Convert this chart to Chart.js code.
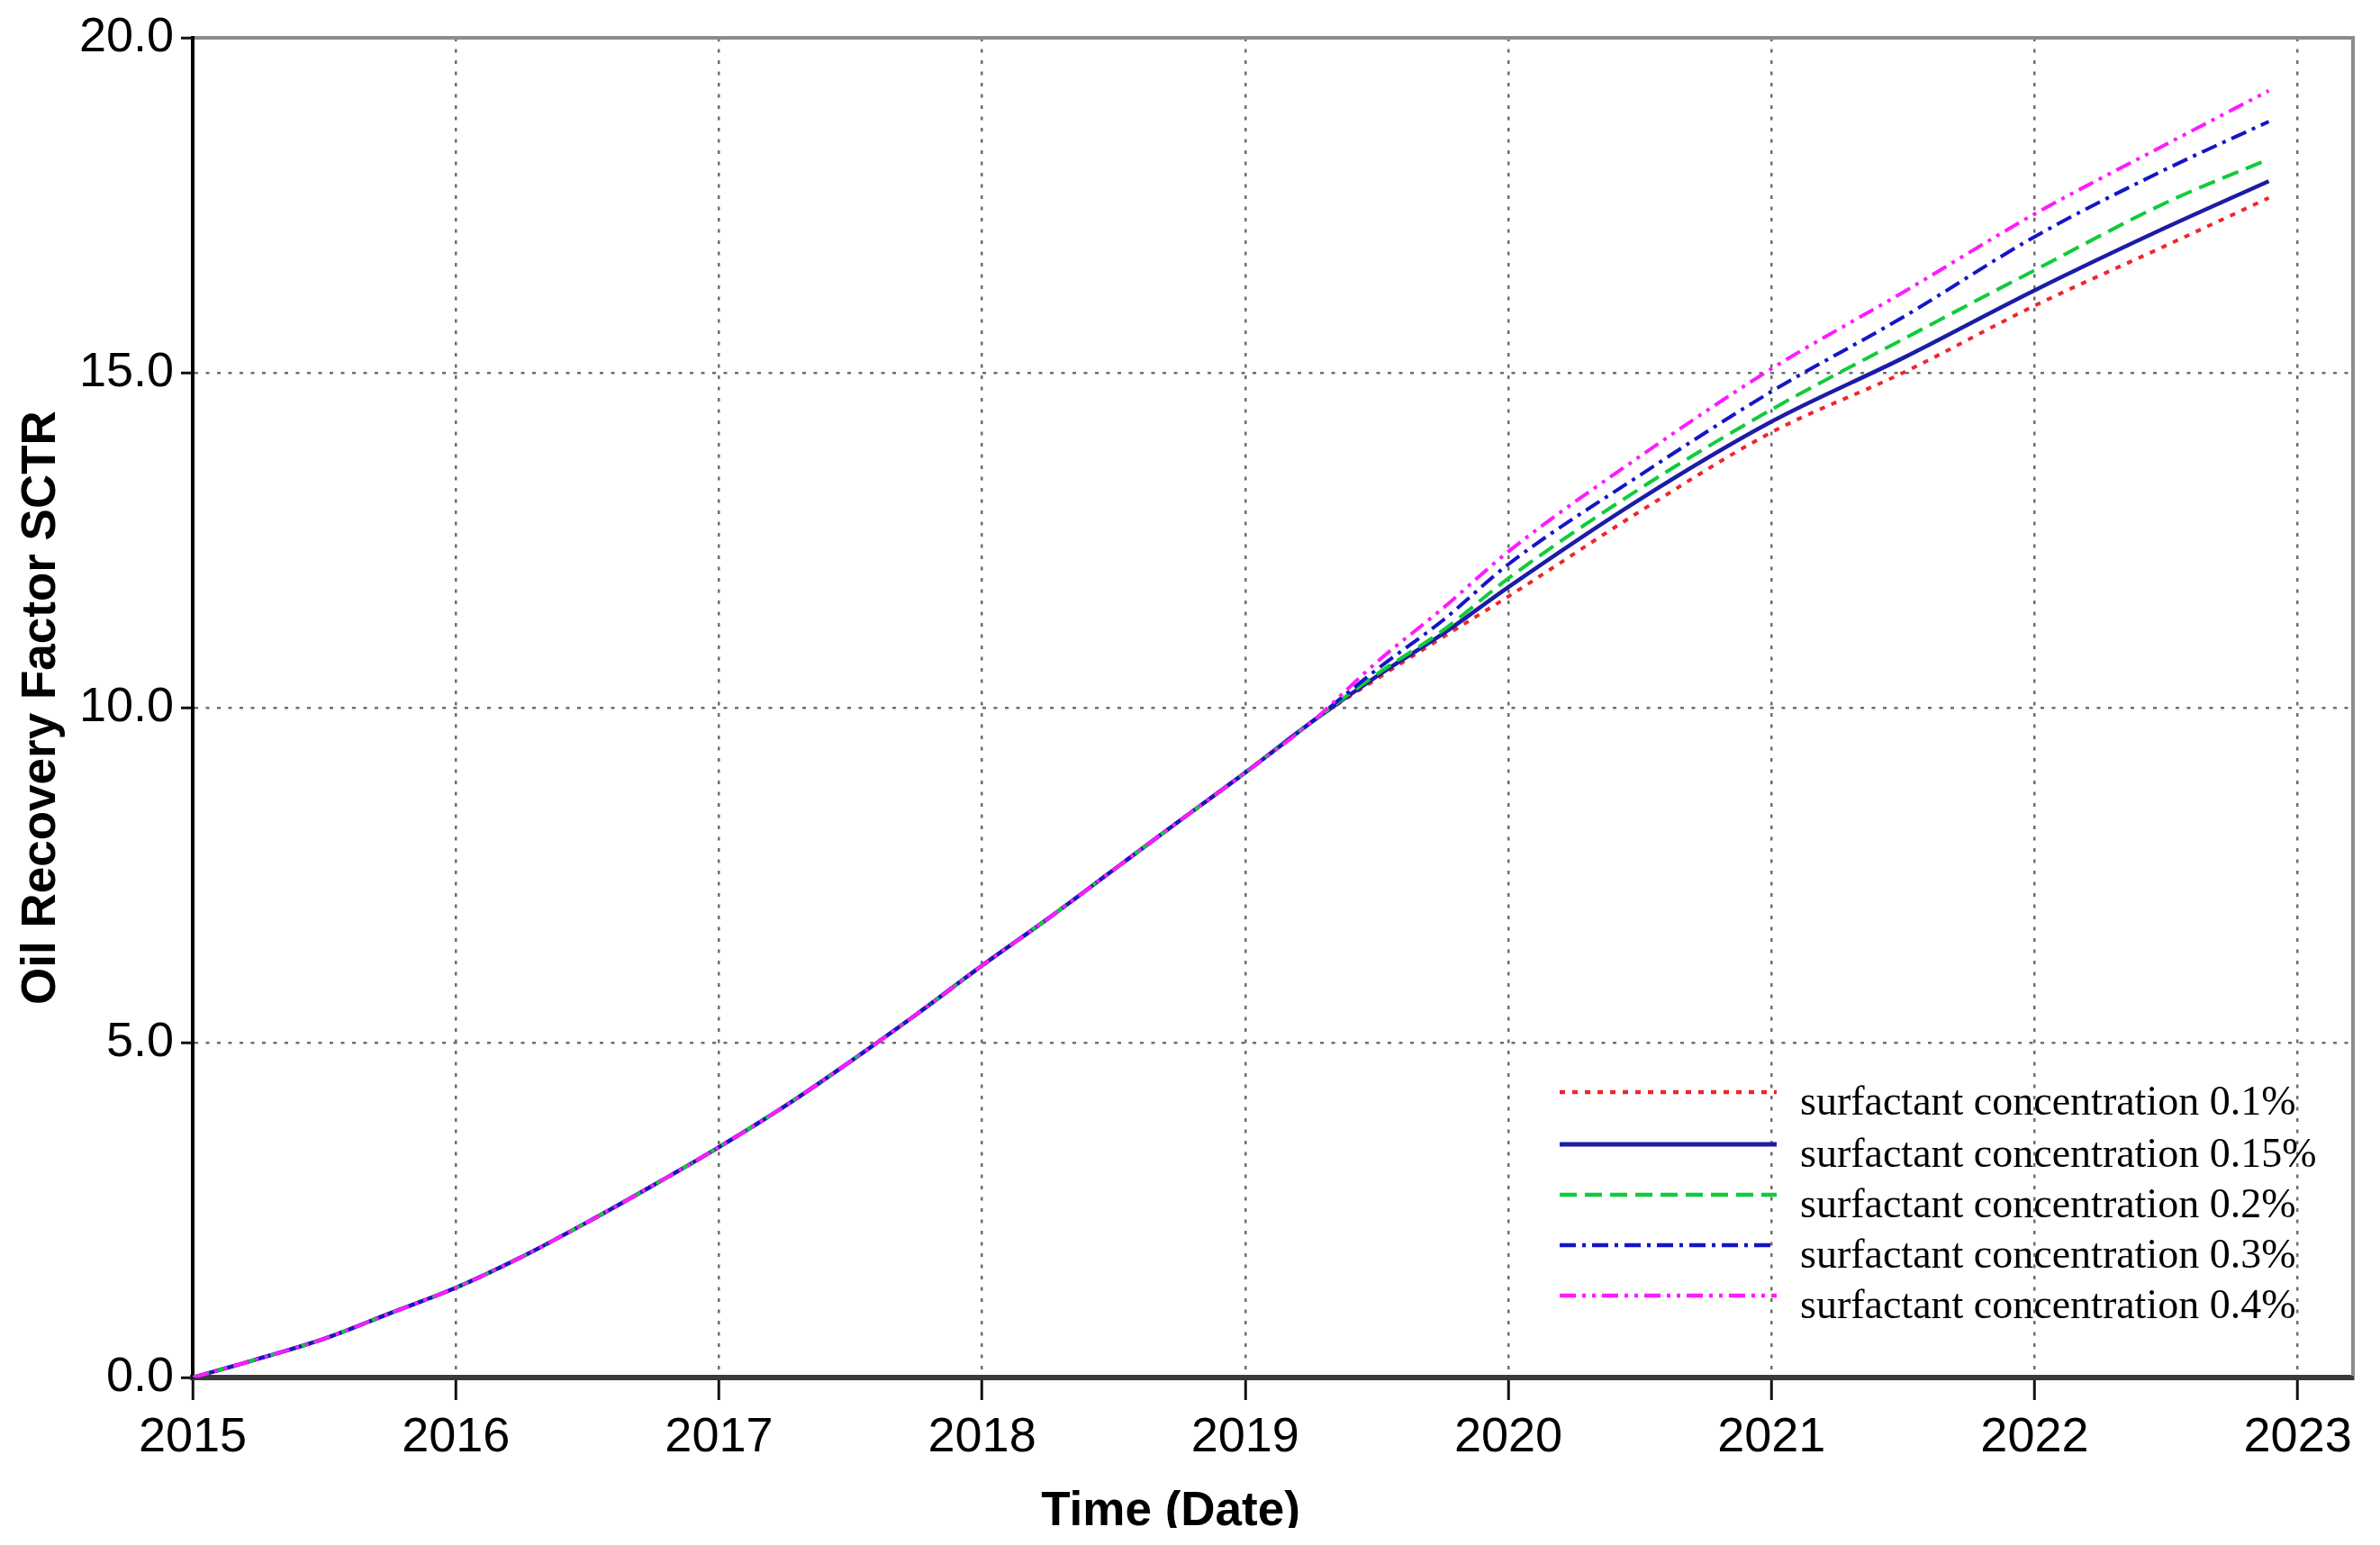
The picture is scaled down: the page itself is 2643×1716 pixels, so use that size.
<!DOCTYPE html>
<html>
<head>
<meta charset="utf-8">
<script src="https://cdn.jsdelivr.net/npm/chart.js@4.4.1/dist/chart.umd.min.js"></script>
<style>
	body { margin: 0; background: #fff; }
	canvas { display: block; }
</style>
</head>
<body>
<canvas id="recovery" width="2643" height="1716"></canvas>
<script>
// time in decimal years
const years = [
	2015, 2015.25, 2015.5, 2015.75, 2016, 2016.25, 2016.5, 2016.75,
	2017, 2017.25, 2017.5, 2017.75, 2018, 2018.25, 2018.5, 2018.75,
	2019, 2019.25, 2019.5, 2019.75, 2020, 2020.5, 2021, 2021.5,
	2022, 2022.5, 2022.89
];

// all cases follow the same curve until early 2019
const sharedRecovery = [
	0, 0.28, 0.58, 0.96, 1.34, 1.8, 2.32, 2.87,
	3.44, 4.05, 4.72, 5.42, 6.15, 6.85, 7.58, 8.31,
	9.03, 9.78
];

const tail01 = [10.43, 11.05, 11.66, 12.93, 14.11, 15.0, 16.0, 16.9, 17.61];
const tail015 = [10.47, 11.1, 11.8, 13.11, 14.27, 15.22, 16.23, 17.17, 17.86];
const tail02 = [10.5, 11.15, 11.93, 13.27, 14.45, 15.5, 16.53, 17.54, 18.19];
const tail03 = [10.57, 11.3, 12.14, 13.47, 14.72, 15.83, 17.03, 18.04, 18.75];
const tail04 = [10.68, 11.48, 12.33, 13.75, 15.06, 16.2, 17.37, 18.41, 19.21];

const seriesLabels = [
	'surfactant concentration 0.1%',
	'surfactant concentration 0.15%',
	'surfactant concentration 0.2%',
	'surfactant concentration 0.3%',
	'surfactant concentration 0.4%'
];

const xTicks = [2015, 2016, 2017, 2018, 2019, 2020, 2021, 2022, 2023];
const yTicks = [0, 5, 10, 15, 20];

const sans = "'Liberation Sans', Arial, Helvetica, sans-serif";
const serif = "'Liberation Serif', 'Times New Roman', serif";

const toPoints = (tail) =>
	years.map((x, i) => ({ x: x, y: i < sharedRecovery.length ? sharedRecovery[i] : tail[i - sharedRecovery.length] }));

const styles = [
	{ color: '#f0262b', dash: [6, 8], width: 4 },
	{ color: '#1c1ca6', dash: [], width: 4.5 },
	{ color: '#10cc3a', dash: [19, 9], width: 4 },
	{ color: '#1515c8', dash: [18, 7, 4, 7], width: 4 },
	{ color: '#ff1aff', dash: [18, 7, 4, 7, 4, 7], width: 4 }
];

const tails = [tail01, tail015, tail02, tail03, tail04];

const datasets = tails.map((tail, i) => ({
	label: seriesLabels[i],
	data: toPoints(tail),
	borderColor: styles[i].color,
	borderDash: styles[i].dash,
	borderWidth: styles[i].width,
	pointRadius: 0,
	fill: false,
	cubicInterpolationMode: 'monotone',
	order: tails.length - i
}));

// gray top and right frame
const framePlugin = {
	id: 'frame',
	afterDraw: (chart) => {
		const { ctx, chartArea: a } = chart;
		ctx.save();
		ctx.strokeStyle = '#8c8c8c';
		ctx.lineWidth = 4;
		ctx.beginPath();
		ctx.moveTo(a.left + 2, a.top);
		ctx.lineTo(a.right, a.top);
		ctx.lineTo(a.right, a.bottom - 2);
		ctx.stroke();
		ctx.restore();
	}
};

// legend sits inside the plot, lower right
const legendPlugin = {
	id: 'innerLegend',
	afterDraw: (chart) => {
		const ctx = chart.ctx;
		const rows = [1213, 1271, 1327, 1383, 1439];
		ctx.save();
		chart.data.datasets.forEach((ds, i) => {
			ctx.strokeStyle = ds.borderColor;
			ctx.lineWidth = ds.borderWidth + 0.5;
			ctx.setLineDash(ds.borderDash);
			ctx.beginPath();
			ctx.moveTo(1732, rows[i]);
			ctx.lineTo(1973, rows[i]);
			ctx.stroke();
			ctx.setLineDash([]);
			ctx.fillStyle = '#000';
			ctx.font = '46px ' + serif;
			ctx.textBaseline = 'middle';
			ctx.textAlign = 'left';
			ctx.fillText(ds.label, 1999, rows[i] + 13);
		});
		ctx.restore();
	}
};

// x title is off-centre and cut by the bottom edge in the original
const xTitlePlugin = {
	id: 'xTitle',
	afterDraw: (chart) => {
		const ctx = chart.ctx;
		ctx.save();
		ctx.beginPath();
		ctx.rect(0, 0, chart.width, 1697);
		ctx.clip();
		ctx.fillStyle = '#000';
		ctx.font = 'bold 53px ' + sans;
		ctx.textAlign = 'center';
		ctx.textBaseline = 'alphabetic';
		ctx.fillText('Time (Date)', 1300, 1694);
		ctx.restore();
	}
};

const ctx = document.getElementById('recovery').getContext('2d');

const recoveryChart = new Chart(ctx, {
	type: 'line',
	data: { datasets: datasets },
	plugins: [framePlugin, legendPlugin, xTitlePlugin],
	options: {
		responsive: false,
		animation: false,
		devicePixelRatio: 1,
		layout: { padding: { left: 0, top: 42, right: 30, bottom: 0 } },
		plugins: {
			legend: { display: false },
			tooltip: { enabled: false }
		},
		scales: {
			x: {
				type: 'linear',
				min: 2015,
				max: 2023.21,
				afterFit: (scale) => { scale.height = 186; },
				afterBuildTicks: (scale) => { scale.ticks = xTicks.map((v) => ({ value: v })); },
				ticks: {
					color: '#000',
					padding: 10,
					maxRotation: 0,
					font: { family: sans, size: 54 },
					callback: (v) => String(v)
				},
				grid: {
					color: '#6e6e6e',
					lineWidth: 2.5,
					tickLength: 25,
					tickColor: '#111',
					tickWidth: 3
				},
				border: { color: '#3a3a3a', width: 6, dash: [4, 8.5] }
			},
			y: {
				min: 0,
				max: 20,
				afterFit: (scale) => { scale.width = 214; },
				afterBuildTicks: (scale) => { scale.ticks = yTicks.map((v) => ({ value: v })); },
				ticks: {
					color: '#000',
					padding: 8,
					font: { family: sans, size: 54 },
					callback: (v) => v.toFixed(1)
				},
				grid: {
					color: '#6e6e6e',
					lineWidth: 2.5,
					tickLength: 13,
					tickColor: '#111',
					tickWidth: 3
				},
				border: { color: '#000', width: 4, dash: [4, 8.5] },
				title: {
					display: true,
					text: 'Oil Recovery Factor SCTR',
					color: '#000',
					font: { family: sans, size: 53, weight: 'bold' },
					padding: { top: 15, bottom: 0 }
				}
			}
		}
	}
});
</script>
</body>
</html>
